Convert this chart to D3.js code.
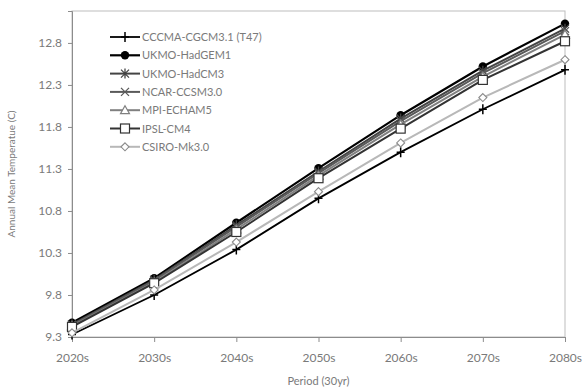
<!DOCTYPE html>
<html>
<head>
<meta charset="utf-8">
<script src="https://cdn.jsdelivr.net/npm/d3@7"></script>
<style>
  html, body { margin: 0; padding: 0; background: #fff; }
  svg { display: block; }
  text { font-family: "Lato", "Open Sans", sans-serif; fill: #7a7a7a; }
</style>
</head>
<body>
<svg id="chart" width="583" height="392"></svg>
<script>
const periods = ["2020s", "2030s", "2040s", "2050s", "2060s", "2070s", "2080s"];
const yTicks = [9.3, 9.8, 10.3, 10.8, 11.3, 11.8, 12.3, 12.8];
const seriesNames = ["CCCMA-CGCM3.1 (T47)", "UKMO-HadGEM1", "UKMO-HadCM3", "NCAR-CCSM3.0", "MPI-ECHAM5", "IPSL-CM4", "CSIRO-Mk3.0"];
const cccma   = [9.33, 9.80, 10.34, 10.95, 11.50, 12.01, 12.48];
const hadgem1 = [9.47, 10.00, 10.66, 11.31, 11.94, 12.52, 13.03];
const hadcm3  = [9.45, 9.98, 10.63, 11.27, 11.90, 12.47, 12.97];
const ncar    = [9.44, 9.97, 10.61, 11.25, 11.87, 12.44, 12.94];
const mpi     = [9.43, 9.95, 10.58, 11.22, 11.83, 12.40, 12.90];
const ipsl    = [9.42, 9.94, 10.55, 11.19, 11.78, 12.36, 12.82];
const csiro   = [9.35, 9.86, 10.43, 11.03, 11.61, 12.15, 12.60];
const seriesValues = [cccma, hadgem1, hadcm3, ncar, mpi, ipsl, csiro];

const styles = [
  {color: "#000000", width: 1.8, marker: "plus"},
  {color: "#000000", width: 2.2, marker: "circle"},
  {color: "#444444", width: 2,   marker: "star"},
  {color: "#5a5a5a", width: 2,   marker: "x"},
  {color: "#808080", width: 2,   marker: "triangle"},
  {color: "#333333", width: 2,   marker: "square"},
  {color: "#b8b8b8", width: 2,   marker: "diamond"}
];

const svg = d3.select("#chart");
const m = {left: 72, right: 18, top: 11, bottom: 55};
const W = 583, H = 392;

const x = d3.scalePoint().domain(periods).range([m.left, W - m.right]);
const y = d3.scaleLinear().domain([9.3, 13.18]).range([H - m.bottom, m.top]);

// plot frame
svg.append("rect")
  .attr("x", m.left).attr("y", m.top)
  .attr("width", W - m.right - m.left).attr("height", H - m.bottom - m.top)
  .attr("fill", "none").attr("stroke", "#bdbdbd").attr("stroke-width", 1);

// axes
const xAxis = svg.append("g")
  .attr("transform", `translate(0,${H - m.bottom})`)
  .call(d3.axisBottom(x).tickSize(5).tickPadding(11));
const yAxis = svg.append("g")
  .attr("transform", `translate(${m.left},0)`)
  .call(d3.axisLeft(y).tickValues(yTicks).tickFormat(d3.format(".1f")).tickSize(4).tickPadding(6));
[xAxis, yAxis].forEach(g => {
  g.select(".domain").attr("stroke", "#8c8c8c");
  g.selectAll(".tick line").attr("stroke", "#8c8c8c");
  g.selectAll(".tick text").attr("fill", "#808080").style("font-size", "12px")
    .style("font-family", "Lato, 'Open Sans', sans-serif");
});

// titles
svg.append("text")
  .attr("x", (m.left + W - m.right) / 2).attr("y", 385)
  .attr("text-anchor", "middle").style("font-size", "11px")
  .text("Period (30yr)");
svg.append("text")
  .attr("transform", `translate(15,${(m.top + H - m.bottom) / 2}) rotate(-90)`)
  .attr("text-anchor", "middle").style("font-size", "10px")
  .text("Annual Mean Temperatue (C)");

function drawMarker(g, type, cx, cy, color) {
  const s = 4;
  if (type === "plus") {
    g.append("path").attr("d", `M${cx},${cy - 5}V${cy + 5}M${cx - 4},${cy}H${cx + 4}`)
      .attr("stroke", color).attr("stroke-width", 1.5).attr("fill", "none");
  } else if (type === "circle") {
    g.append("circle").attr("cx", cx).attr("cy", cy).attr("r", 4.2).attr("fill", color);
  } else if (type === "star") {
    g.append("path").attr("d", `M${cx - s},${cy - s}L${cx + s},${cy + s}M${cx - s},${cy + s}L${cx + s},${cy - s}M${cx},${cy - 5}V${cy + 5}`)
      .attr("stroke", color).attr("stroke-width", 1.3).attr("fill", "none");
  } else if (type === "x") {
    g.append("path").attr("d", `M${cx - s},${cy - s}L${cx + s},${cy + s}M${cx - s},${cy + s}L${cx + s},${cy - s}`)
      .attr("stroke", color).attr("stroke-width", 1.3).attr("fill", "none");
  } else if (type === "triangle") {
    g.append("path").attr("d", `M${cx},${cy - 4.5}L${cx + 4.5},${cy + 3.5}L${cx - 4.5},${cy + 3.5}Z`)
      .attr("stroke", color).attr("stroke-width", 1.2).attr("fill", "#fff");
  } else if (type === "square") {
    g.append("rect").attr("x", cx - 4.5).attr("y", cy - 4.5).attr("width", 9).attr("height", 9)
      .attr("stroke", color).attr("stroke-width", 1.2).attr("fill", "#fff");
  } else if (type === "diamond") {
    g.append("path").attr("d", `M${cx},${cy - 4}L${cx + 4},${cy}L${cx},${cy + 4}L${cx - 4},${cy}Z`)
      .attr("stroke", "#8a8a8a").attr("stroke-width", 1.1).attr("fill", "#fff");
  }
}

const line = d3.line().x((d, i) => x(periods[i])).y(d => y(d));

seriesValues.forEach((vals, k) => {
  const st = styles[k];
  const g = svg.append("g");
  g.append("path").datum(vals).attr("d", line)
    .attr("fill", "none").attr("stroke", st.color).attr("stroke-width", st.width)
    .attr("stroke-linejoin", "round");
  vals.forEach((v, i) => drawMarker(g, st.marker, x(periods[i]), y(v), st.color));
});

// legend
const lg = svg.append("g");
seriesNames.forEach((name, k) => {
  const st = styles[k];
  const ly = 37 + k * 18.3;
  lg.append("line").attr("x1", 110).attr("x2", 140).attr("y1", ly).attr("y2", ly)
    .attr("stroke", st.color).attr("stroke-width", st.width);
  drawMarker(lg, st.marker, 125, ly, st.color);
  lg.append("text").attr("x", 142).attr("y", ly + 4).style("font-size", "11px").text(name);
});
</script>
</body>
</html>
